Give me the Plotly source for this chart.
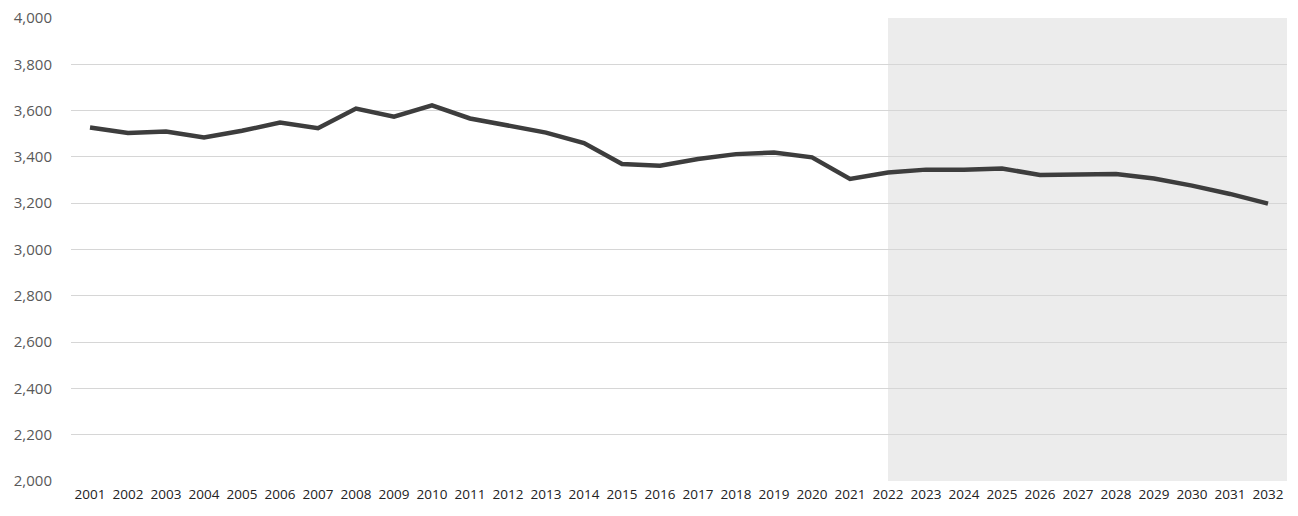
import plotly.graph_objects as go

years = [str(y) for y in range(2001, 2033)]
values = [3527, 3503, 3510, 3484, 3513, 3548, 3524, 3609, 3574, 3623,
          3566, 3534, 3505, 3460, 3369, 3362, 3391, 3412, 3419, 3398,
          3305, 3333, 3345, 3345, 3350, 3322, 3326, 3326, 3307, 3276,
          3240, 3198]
projection_start = "2022"
y_ticks = list(range(2000, 4001, 200))

FONT = "Open Sans, sans-serif"

fig = go.Figure()
fig.add_trace(go.Scatter(
    x=years, y=values, mode="lines",
    line=dict(color="#3d3d3d", width=4.5),
    hoverinfo="x+y",
))

fig.add_shape(
    type="rect", xref="x", yref="y",
    x0=years.index(projection_start), x1=len(years) - 0.5,
    y0=2000, y1=4000,
    fillcolor="#ececec", line=dict(width=0), layer="below",
)

fig.update_layout(
    width=1298, height=516,
    margin=dict(l=63, r=19, t=10, b=43),
    paper_bgcolor="white", plot_bgcolor="white",
    showlegend=False,
    font=dict(family=FONT, size=13, color="#444"),
)
fig.update_xaxes(
    type="category", range=[-0.5, len(years) - 0.5],
    showgrid=False, showline=False, ticks="",
    tickfont=dict(family=FONT, size=13.5, color="#222"),
    tickangle=0, automargin=False, ticklabelstandoff=3,
)
fig.update_yaxes(
    range=[2000, 4000], tickvals=y_ticks, tickformat=",",
    showgrid=True, gridcolor="#d6d6d6", gridwidth=1,
    zeroline=False, showline=False, ticks="",
    tickfont=dict(family=FONT, size=15, color="#595959"),
    ticklabelstandoff=18, automargin=False, ticklabeloverflow="allow",
)

fig.write_html("out.html")
